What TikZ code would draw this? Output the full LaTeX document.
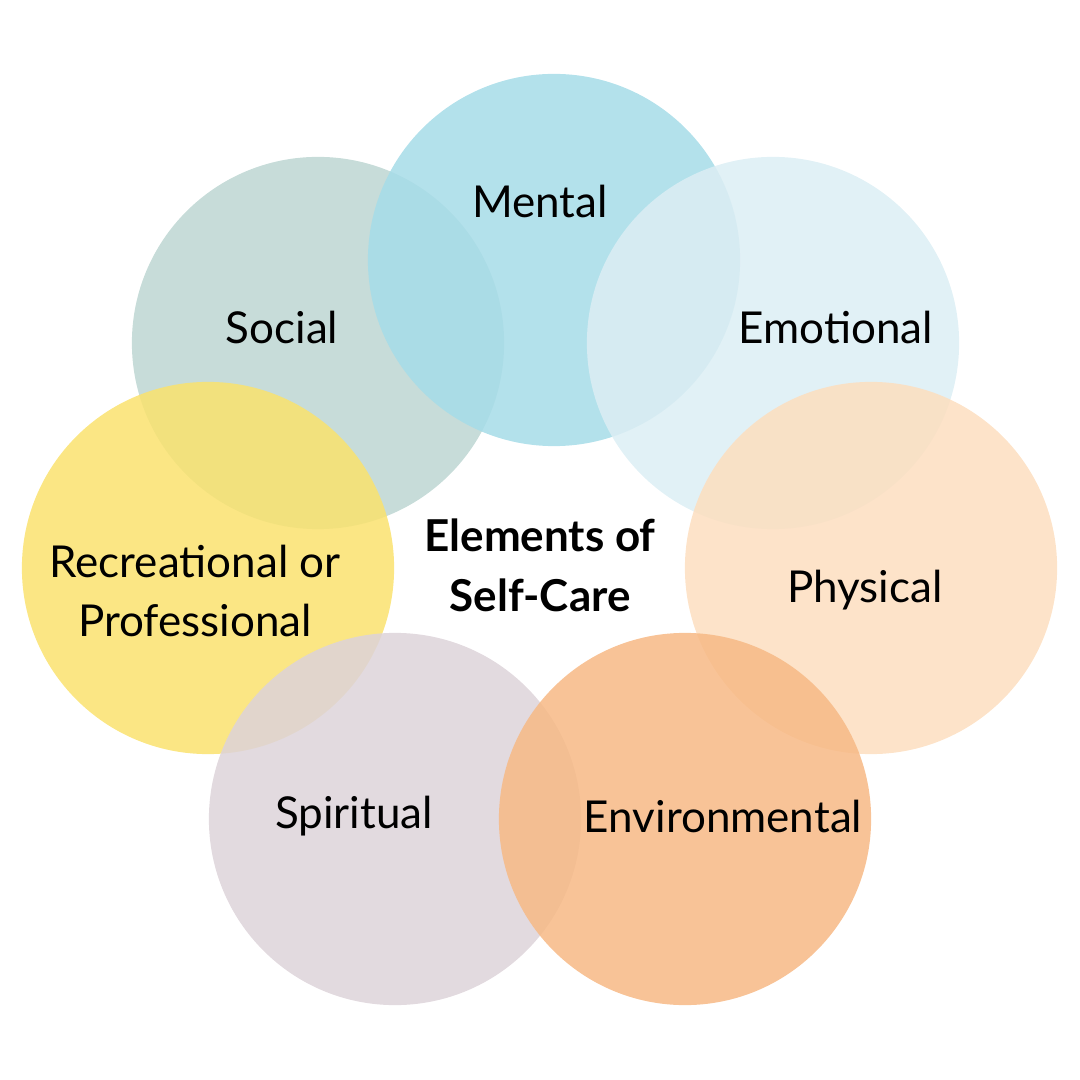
\documentclass[tikz,border=0pt]{standalone}
\usepackage{fontspec}
\setmainfont{Lato}
\usepackage{xcolor}
\definecolor{mentalc}{HTML}{A6DCE8}
\definecolor{socialc}{HTML}{BDD6D2}
\definecolor{emotionc}{HTML}{DCEEF4}
\definecolor{recreatc}{HTML}{FAE26E}
\definecolor{physicc}{HTML}{FDDEBF}
\definecolor{spiritc}{HTML}{DDD3D9}
\definecolor{environc}{HTML}{F7B985}
\tikzset{
  blob/.style={circle,minimum size=3.72cm,inner sep=0pt,fill opacity=0.85},
  lbl/.style={font=\fontsize{12.5}{17}\selectfont,align=center}
}
\begin{document}
\begin{tikzpicture}[x=0.01cm,y=-0.01cm]
\useasboundingbox (0,0) rectangle (1080,1080);

\node [blob,fill=socialc] (social) at (318,343) {};
\node [blob,fill=mentalc] (mental) at (554,260) {};
\node [blob,fill=emotionc] (emotion) at (773,343) {};
\node [blob,fill=recreatc] (recreat) at (208,568) {};
\node [blob,fill=physicc] (physic) at (871,568) {};
\node [blob,fill=spiritc] (spirit) at (395,819) {};
\node [blob,fill=environc] (environ) at (685,819) {};

\node [lbl] (tmental) at (540,201) {Mental};
\node [lbl] (tsocial) at (282,327) {Social};
\node [lbl] (temotion) at (836,327) {Emotional};
\node [lbl] (trecreat) at (195,591) {Recreational or\\Professional};
\node [lbl] (tphysic) at (865,590) {Physical};
\node [lbl] (tspirit) at (354,816) {Spiritual};
\node [lbl] (tenviron) at (723,816) {Environmental};
\node [lbl,font=\fontsize{12.5}{17}\selectfont\bfseries] (title) at (540,565) {Elements of\\Self-Care};
\end{tikzpicture}
\end{document}
